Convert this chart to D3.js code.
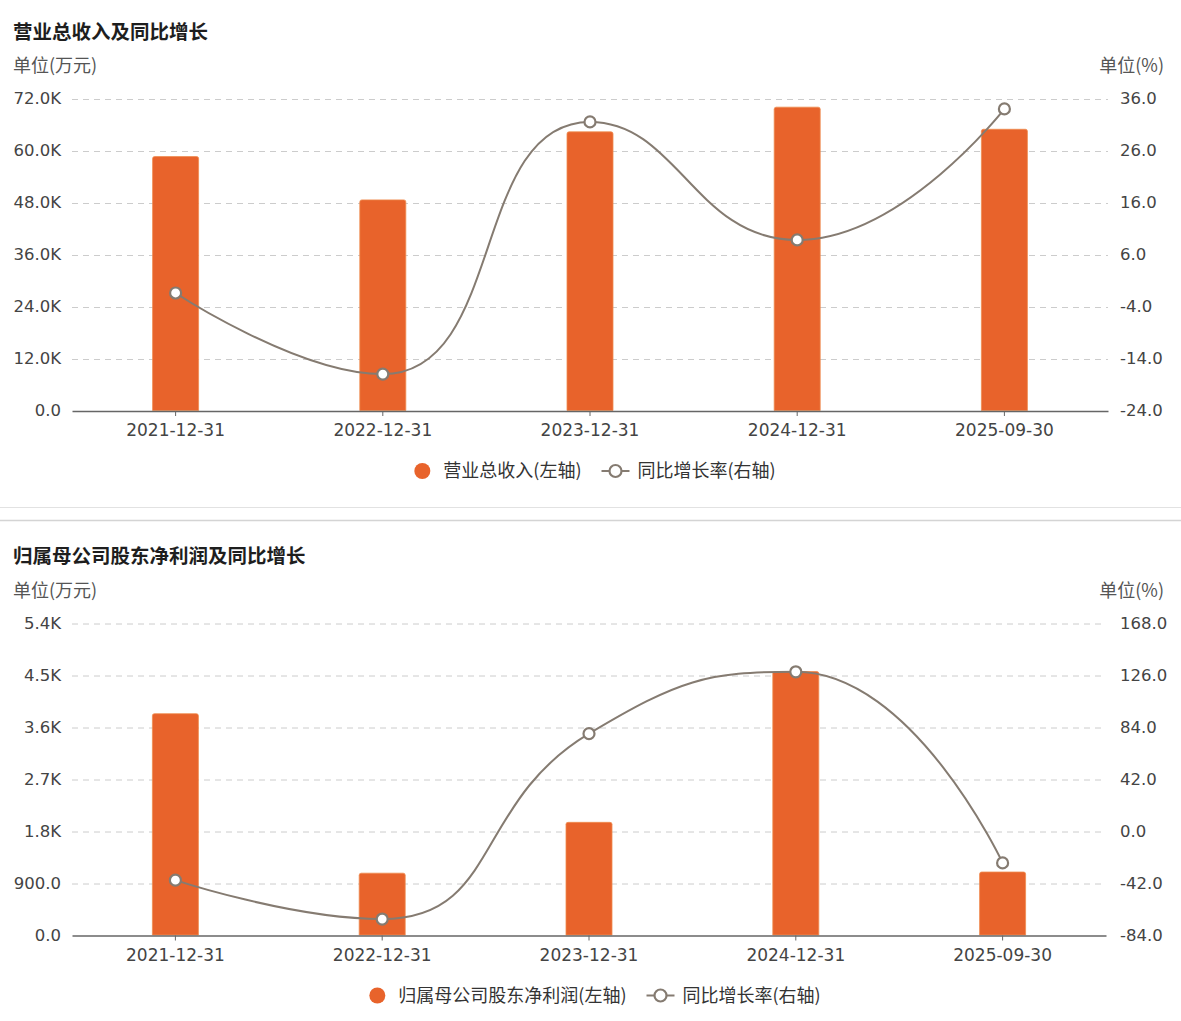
<!DOCTYPE html>
<html>
<head>
<meta charset="utf-8">
<script src="https://cdn.jsdelivr.net/npm/d3@7"></script>
<style>
  body { margin: 0; background: #fff; }
  svg { display: block; }
  text { font-family: "DejaVu Sans", "Noto Sans CJK SC", sans-serif; }
  .cjk { font-family: "Noto Sans CJK SC", sans-serif; }
</style>
</head>
<body>
<svg id="chart" width="1181" height="1021"></svg>
<script>
// Data
const categories = ["2021-12-31", "2022-12-31", "2023-12-31", "2024-12-31", "2025-09-30"];

const revenue = [58600, 48600, 64300, 70000, 64900];      // 万元
const revenueGrowth = [-1.4, -17.0, 31.5, 8.8, 34.0];       // %
const revenueTicks = [0, 12000, 24000, 36000, 48000, 60000, 72000];
const revenueGrowthTicks = [-24, -14, -4, 6, 16, 26, 36];

const profit = [3830, 1070, 1950, 4560, 1090];              // 万元
const profitGrowth = [-39.7, -71.1, 78.6, 128.6, -25.8];    // %
const profitTicks = [0, 900, 1800, 2700, 3600, 4500, 5400];
const profitGrowthTicks = [-84, -42, 0, 42, 84, 126, 168];

const barColor = "#E8632B";
const lineColor = "#857b71";

const svg = d3.select("#chart");

// K formatting like the original
const fmtLeft = v => v >= 1000 ? (v / 1000).toFixed(1) + "K" : v.toFixed(1);
const fmtRight = v => v.toFixed(1);

// ECharts style smooth bezier (smooth = 0.5, clamped control points)
function smoothPath(pts, smooth) {
  const p = d3.path();
  let cpx0, cpy0, prevX, prevY;
  pts.forEach(([x, y], i) => {
    if (i === 0) {
      p.moveTo(x, y);
      cpx0 = x; cpy0 = y;
    } else {
      let cpx1, cpy1, nx0 = x, ny0 = y;
      if (i === pts.length - 1) {
        cpx1 = x; cpy1 = y;
      } else {
        const [nextX, nextY] = pts[i + 1];
        let vx = nextX - prevX, vy = nextY - prevY;
        const lenPrev = Math.hypot(x - prevX, y - prevY);
        const lenNext = Math.hypot(nextX - x, nextY - y);
        const ratio = lenNext / (lenNext + lenPrev);
        nx0 = x + vx * smooth * ratio;
        ny0 = y + vy * smooth * ratio;
        nx0 = Math.max(Math.min(nx0, Math.max(nextX, x)), Math.min(nextX, x));
        ny0 = Math.max(Math.min(ny0, Math.max(nextY, y)), Math.min(nextY, y));
        vx = nx0 - x; vy = ny0 - y;
        cpx1 = x - vx * lenPrev / lenNext;
        cpy1 = y - vy * lenPrev / lenNext;
        cpx1 = Math.max(Math.min(cpx1, Math.max(prevX, x)), Math.min(prevX, x));
        cpy1 = Math.max(Math.min(cpy1, Math.max(prevY, y)), Math.min(prevY, y));
        vx = x - cpx1; vy = y - cpy1;
        nx0 = x + vx * lenNext / lenPrev;
        ny0 = y + vy * lenNext / lenPrev;
      }
      p.bezierCurveTo(cpx0, cpy0, cpx1, cpy1, x, y);
      cpx0 = nx0; cpy0 = ny0;
    }
    prevX = x; prevY = y;
  });
  return p.toString();
}

function drawPanel(cfg) {
  const g = svg.append("g").attr("transform", "translate(0," + cfg.offset + ")");

  // title and units
  g.append("text").attr("class", "cjk")
    .attr("x", 13).attr("y", 32).attr("dy", "0.35em")
    .attr("font-size", 19.5).attr("font-weight", "bold").attr("fill", "#1e1e1e")
    .text(cfg.title);
  g.append("text").attr("class", "cjk")
    .attr("x", 13).attr("y", 66).attr("dy", "0.35em")
    .attr("font-size", 18).attr("fill", "#555")
    .text("单位(万元)");
  g.append("text").attr("class", "cjk")
    .attr("x", 1164).attr("y", 66).attr("dy", "0.35em")
    .attr("text-anchor", "end")
    .attr("font-size", 18).attr("fill", "#555")
    .text("单位(%)");

  const x = d3.scaleBand().domain(categories).range([72, cfg.right]);
  const yL = d3.scaleLinear().domain(d3.extent(cfg.leftTicks)).range([410.5, 98.5]);
  const yR = d3.scaleLinear().domain(d3.extent(cfg.rightTicks)).range([410.5, 98.5]);

  // grid
  g.append("g").selectAll("line")
    .data(cfg.leftTicks.slice(1))
    .join("line")
    .attr("x1", 72).attr("x2", cfg.right)
    .attr("y1", d => Math.round(yL(d)) + 0.5).attr("y2", d => Math.round(yL(d)) + 0.5)
    .attr("stroke", "#cccccc").attr("stroke-dasharray", "6,5");

  // left axis labels
  g.append("g").selectAll("text")
    .data(cfg.leftTicks)
    .join("text")
    .attr("x", 61).attr("y", d => yL(d)).attr("dy", "0.35em")
    .attr("text-anchor", "end").attr("font-size", 16.5).attr("fill", "#444")
    .text(fmtLeft);

  // right axis labels
  g.append("g").selectAll("text")
    .data(cfg.rightTicks)
    .join("text")
    .attr("x", 1120).attr("y", d => yR(d)).attr("dy", "0.35em")
    .attr("font-size", 16.5).attr("fill", "#444")
    .text(fmtRight);

  // bars
  const bw = 46;
  g.append("g").selectAll("path")
    .data(cfg.bars)
    .join("path")
    .attr("d", (d, i) => {
      const cx = x(categories[i]) + x.bandwidth() / 2;
      const x0 = cx - bw / 2, y0 = yL(d), y1 = yL(0), r = 2;
      return "M" + x0 + "," + y1 + "V" + (y0 + r) + "Q" + x0 + "," + y0 + " " + (x0 + r) + "," + y0 +
        "H" + (x0 + bw - r) + "Q" + (x0 + bw) + "," + y0 + " " + (x0 + bw) + "," + (y0 + r) + "V" + y1 + "Z";
    })
    .attr("fill", barColor)
    .attr("stroke", "#ef8b4f").attr("stroke-width", 0.8);

  // x axis
  const xAxis = d3.axisBottom(x).tickSize(5).tickSizeOuter(0).tickPadding(8);
  const ax = g.append("g")
    .attr("transform", "translate(0," + (yL(0) + 0.5) + ")")
    .call(xAxis);
  ax.select(".domain").attr("stroke", "#666").attr("stroke-width", 1.5);
  ax.selectAll(".tick line").attr("stroke", "#666");
  ax.selectAll(".tick text")
    .attr("font-family", "DejaVu Sans").attr("font-size", 17).attr("fill", "#444");

  // growth line
  const pts = cfg.line.map((v, i) => [x(categories[i]) + x.bandwidth() / 2, yR(v)]);
  g.append("path")
    .attr("d", smoothPath(pts, 0.5))
    .attr("fill", "none").attr("stroke", lineColor).attr("stroke-width", 2);
  g.append("g").selectAll("circle")
    .data(pts)
    .join("circle")
    .attr("cx", d => d[0]).attr("cy", d => d[1]).attr("r", 5.5)
    .attr("fill", "#fff").attr("stroke", lineColor).attr("stroke-width", 2.2);

  // legend
  const leg = g.append("g").attr("transform", "translate(0,471)");
  const t1 = leg.append("text").attr("class", "cjk")
    .attr("dy", "0.35em").attr("font-size", 18).attr("fill", "#333").text(cfg.barName);
  const t2 = leg.append("text").attr("class", "cjk")
    .attr("dy", "0.35em").attr("font-size", 18).attr("fill", "#333").text("同比增长率(右轴)");
  const w1 = t1.node().getComputedTextLength();
  const w2 = t2.node().getComputedTextLength();
  const total = 16 + 13 + w1 + 20 + 28 + 8 + w2;
  let lx = 595 - total / 2;
  leg.append("circle").attr("cx", lx + 8).attr("cy", 0).attr("r", 8).attr("fill", barColor);
  lx += 29;
  t1.attr("x", lx);
  lx += w1 + 20;
  leg.append("line").attr("x1", lx).attr("x2", lx + 28).attr("y1", 0).attr("y2", 0)
    .attr("stroke", lineColor).attr("stroke-width", 2);
  leg.append("circle").attr("cx", lx + 14).attr("cy", 0).attr("r", 6)
    .attr("fill", "#fff").attr("stroke", lineColor).attr("stroke-width", 2.2);
  lx += 36;
  t2.attr("x", lx);
}

drawPanel({
  offset: 0, right: 1108,
  title: "营业总收入及同比增长", barName: "营业总收入(左轴)",
  bars: revenue, line: revenueGrowth,
  leftTicks: revenueTicks, rightTicks: revenueGrowthTicks
});

// separator
svg.append("line").attr("x1", 0).attr("x2", 1181).attr("y1", 507.5).attr("y2", 507.5)
  .attr("stroke", "#e2e2e2");
svg.append("line").attr("x1", 0).attr("x2", 1181).attr("y1", 520.5).attr("y2", 520.5)
  .attr("stroke", "#d4d4d4").attr("stroke-width", 1.5);

drawPanel({
  offset: 524.5, right: 1106,
  title: "归属母公司股东净利润及同比增长", barName: "归属母公司股东净利润(左轴)",
  bars: profit, line: profitGrowth,
  leftTicks: profitTicks, rightTicks: profitGrowthTicks
});
</script>
</body>
</html>
